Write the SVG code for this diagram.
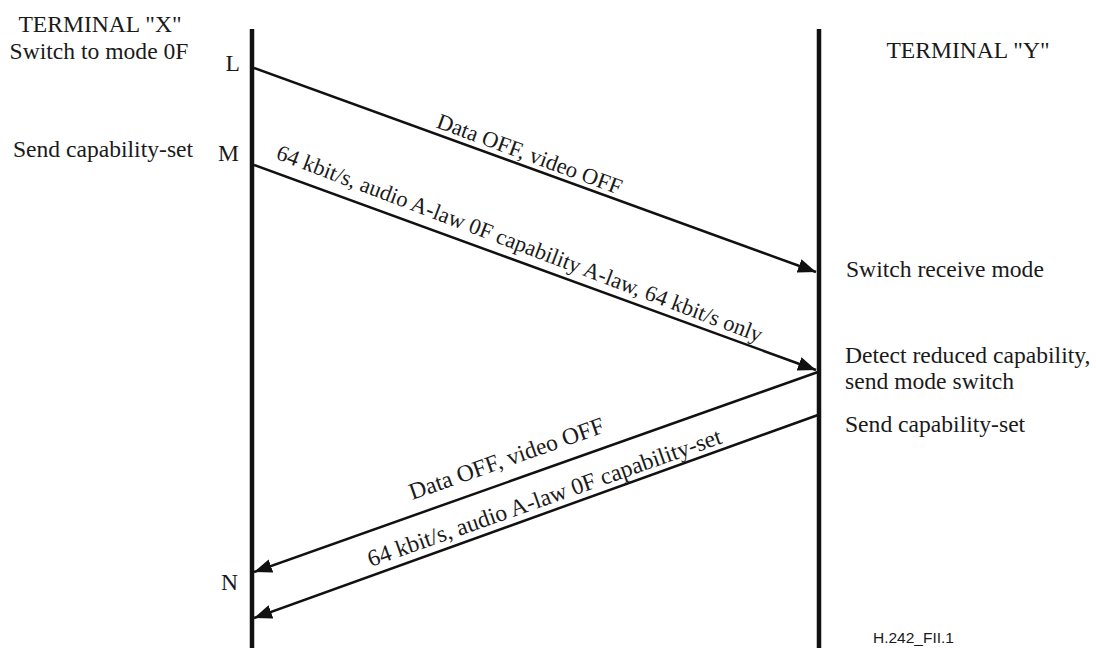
<svg xmlns="http://www.w3.org/2000/svg" width="1096" height="648" viewBox="0 0 1096 648">
<style>
.t{font-family:"Liberation Serif","Times New Roman",serif;font-size:23.6px;fill:#1a1a1a}
.r{font-family:"Liberation Serif","Times New Roman",serif;font-size:22.5px;fill:#1a1a1a}
.rb{font-family:"Liberation Serif","Times New Roman",serif;font-size:23.6px;fill:#1a1a1a}
.s{font-family:"Liberation Sans",Arial,sans-serif;font-size:15.5px;fill:#1a1a1a}
.life{stroke:#111;stroke-width:4.5;fill:none}
.msg{stroke:#111;stroke-width:2.5;fill:none;marker-end:url(#ah)}
</style>
<defs>
<marker id="ah" markerUnits="userSpaceOnUse" markerWidth="20" markerHeight="14" refX="18" refY="7" orient="auto">
<path d="M0,0 L18,7 L0,14 Z" fill="#111"/>
</marker>
</defs>
<rect width="1096" height="648" fill="#fff"/>
<g id="terminal-x">
<line class="life" x1="252" y1="29" x2="252" y2="648"/>
<text class="t" x="100" y="32" text-anchor="middle">TERMINAL "X"</text>
<text class="t" x="99" y="59" text-anchor="middle">Switch to mode 0F</text>
<text class="t" x="103" y="157" text-anchor="middle">Send capability-set</text>
<text class="t" x="240" y="71" text-anchor="end">L</text>
<text class="t" x="239" y="161" text-anchor="end">M</text>
<text class="t" x="238" y="590" text-anchor="end">N</text>
</g>
<g id="terminal-y">
<line class="life" x1="819" y1="29" x2="819" y2="648"/>
<text class="t" x="968" y="58" text-anchor="middle">TERMINAL "Y"</text>
<text class="t" x="846" y="277">Switch receive mode</text>
<text class="t" x="845" y="363">Detect reduced capability,</text>
<text class="t" x="845" y="389">send mode switch</text>
<text class="t" x="845" y="432">Send capability-set</text>
<text class="s" x="873" y="643">H.242_FII.1</text>
</g>
<g id="connectors">
<line class="msg" x1="254" y1="68" x2="816" y2="272"/>
<line class="msg" x1="254" y1="165" x2="816" y2="370"/>
<line class="msg" x1="818" y1="372" x2="254" y2="572"/>
<line class="msg" x1="818" y1="415" x2="254" y2="618"/>
<text class="r" transform="translate(527,161) rotate(20.2)" text-anchor="middle">Data OFF, video OFF</text>
<text class="r" transform="translate(517,250.5) rotate(20.8)" text-anchor="middle">64 kbit/s, audio A-law 0F capability A-law, 64 kbit/s only</text>
<text class="rb" transform="translate(509,466) rotate(-19.4)" text-anchor="middle">Data OFF, video OFF</text>
<text class="rb" transform="translate(547,505) rotate(-19.4)" text-anchor="middle">64 kbit/s, audio A-law 0F capability-set</text>
</g>
</svg>
